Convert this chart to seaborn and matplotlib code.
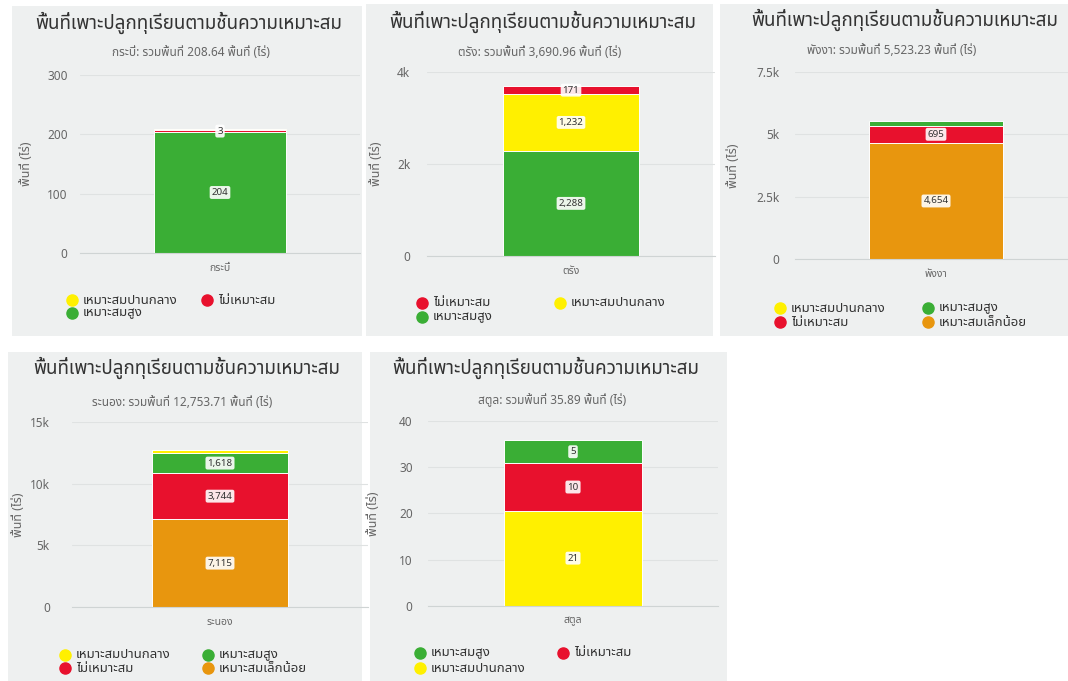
import numpy as np
import pandas as pd
import matplotlib
matplotlib.use("Agg")
import matplotlib.pyplot as plt
import seaborn as sns
from matplotlib.patches import Rectangle
from matplotlib.lines import Line2D

# ---- data ----
title = "พื้นที่เพาะปลูกทุเรียนตามชั้นความเหมาะสม"
y_label = "พื้นที่ (ไร่)"
provinces = ["กระบี่", "ตรัง", "พังงา", "ระนอง", "สตูล"]

# series listed in legend order (first = top of stack)
krabi_series = ["เหมาะสมปานกลาง", "ไม่เหมาะสม", "เหมาะสมสูง"]
krabi_values = [1.64, 3.0, 204.0]

trang_series = ["ไม่เหมาะสม", "เหมาะสมปานกลาง", "เหมาะสมสูง"]
trang_values = [170.96, 1232.0, 2288.0]

phangnga_series = ["เหมาะสมปานกลาง", "เหมาะสมสูง", "ไม่เหมาะสม", "เหมาะสมเล็กน้อย"]
phangnga_values = [4.23, 170.0, 695.0, 4654.0]

ranong_series = ["เหมาะสมปานกลาง", "เหมาะสมสูง", "ไม่เหมาะสม", "เหมาะสมเล็กน้อย"]
ranong_values = [276.71, 1618.0, 3744.0, 7115.0]

satun_series = ["เหมาะสมสูง", "ไม่เหมาะสม", "เหมาะสมปานกลาง"]
satun_values = [5.09, 10.2, 20.6]

# segments whose data label is visible in the reference
shown_labels = [
    ["ไม่เหมาะสม", "เหมาะสมสูง"],
    ["ไม่เหมาะสม", "เหมาะสมปานกลาง", "เหมาะสมสูง"],
    ["ไม่เหมาะสม", "เหมาะสมเล็กน้อย"],
    ["เหมาะสมสูง", "ไม่เหมาะสม", "เหมาะสมเล็กน้อย"],
    ["เหมาะสมสูง", "ไม่เหมาะสม", "เหมาะสมปานกลาง"],
]

y_max = [300, 4000, 7500, 15000, 40]
y_step = [100, 2000, 2500, 5000, 10]

all_series = [krabi_series, trang_series, phangnga_series, ranong_series, satun_series]
all_values = [krabi_values, trang_values, phangnga_values, ranong_values, satun_values]

colors = {
    "เหมาะสมสูง": "#3aae35",
    "เหมาะสมปานกลาง": "#fff000",
    "ไม่เหมาะสม": "#e8112d",
    "เหมาะสมเล็กน้อย": "#e8960e",
}

# ---- layout in pixels of the 1068x681 canvas ----
W, H = 1068, 681
panel_boxes = [(12, 6, 362, 336), (366, 4, 713, 336), (720, 4, 1068, 336),
               (8, 352, 362, 681), (370, 352, 727, 681)]
# left, right, y of zero, y of max
axes_boxes = [(80, 360, 253, 75), (427, 715, 256, 72), (795, 1077, 259, 72),
              (72, 368, 607, 422), (428, 718, 605.7, 421)]
bar_width = [0.47, 0.47, 0.475, 0.46, 0.476]
tick_pad = [9, 12, 11, 16, 11]
title_pos = [(189, 23), (543, 22), (905, 20), (187, 368), (546, 368)]
subtitle_pos = [(191, 53), (540, 52), (892, 51), (182, 402), (552, 400)]
ylabel_x = [33, 383, 740, 25, 380]
legend_rows = [(300, 313), (303, 317), (308, 322), (655, 668), (653, 668)]
legend_cols = [(72, 207), (422, 560), (780, 928), (65, 208), (420, 563)]


def fx(x):
    return x / W


def fy(y):
    return 1 - y / H


def k_format(v):
    if v >= 1000:
        s = f"{v / 1000:g}"
        return s + "k"
    return f"{v:g}"


sns.set_theme(style="white")
plt.rcParams["font.family"] = ["Noto Sans Thai", "Noto Sans", "DejaVu Sans"]

fig = plt.figure(figsize=(W / 100, H / 100), dpi=100, facecolor="white")

for i, prov in enumerate(provinces):
    series = all_series[i]
    values = all_values[i]
    x0, y0, x1, y1 = panel_boxes[i]
    fig.add_artist(Rectangle((fx(x0), fy(y1)), (x1 - x0) / W, (y1 - y0) / H,
                             transform=fig.transFigure, facecolor="#eef0f0",
                             edgecolor="none", zorder=-5))

    left, right, yz, yt = axes_boxes[i]
    ax = fig.add_axes([fx(left), fy(yz), (right - left) / W, (yz - yt) / H])
    ax.set_facecolor("none")

    # stack from bottom (last series) upwards
    df = pd.DataFrame({"series": series, "value": values})
    df["top"] = df["value"][::-1].cumsum()[::-1]
    df["bottom"] = df["top"] - df["value"]

    # draw cumulative heights, tallest first so lower segments cover them
    for _, row in df.iterrows():
        sns.barplot(x=[prov], y=[row["top"]], color=colors[row["series"]],
                    saturation=1, width=bar_width[i], edgecolor="white",
                    linewidth=0.7, ax=ax, zorder=2)

    for _, row in df.iterrows():
        if row["series"] in shown_labels[i]:
            ax.text(0, row["bottom"] + row["value"] / 2, f"{row['value']:,.0f}",
                    ha="center", va="center", fontsize=7, fontweight="bold",
                    color="#333333", zorder=5,
                    bbox=dict(boxstyle="round,pad=0.2", fc="white", ec="none", alpha=0.9))

    ax.set_xlim(-0.5, 0.5)
    ax.set_ylim(0, y_max[i])
    ticks = np.arange(0, y_max[i] + y_step[i] / 2, y_step[i])
    ax.set_yticks(ticks)
    ax.set_yticklabels([k_format(t) for t in ticks])
    ax.tick_params(axis="y", length=0, pad=tick_pad[i], labelsize=8.5, labelcolor="#666666")
    ax.tick_params(axis="x", length=0, pad=7, labelsize=7.5, labelcolor="#666666")
    ax.set_xlabel("")
    ax.yaxis.grid(True, color="#dfe2e2", linewidth=0.8)
    ax.set_axisbelow(True)
    for side in ["top", "right", "left"]:
        ax.spines[side].set_visible(False)
    ax.spines["bottom"].set_color("#cfd4d4")
    ax.spines["bottom"].set_linewidth(0.8)

    ax.set_ylabel(y_label, fontsize=9, color="#666666")
    ax.yaxis.set_label_coords((ylabel_x[i] - left) / (right - left), 0.5)

    tx, ty = title_pos[i]
    fig.text(fx(tx), fy(ty), title, ha="center", va="center", fontsize=13.5,
             fontweight="medium", color="#333333")
    sx, sy = subtitle_pos[i]
    total = sum(values)
    fig.text(fx(sx), fy(sy), f"{prov}: รวมพื้นที่ {total:,.2f} พื้นที่ (ไร่)",
             ha="center", va="center", fontsize=8.5, color="#666666")

    # legend, filled row by row like the original
    for j, name in enumerate(series):
        lx = legend_cols[i][j % 2]
        ly = legend_rows[i][j // 2]
        fig.add_artist(Line2D([fx(lx)], [fy(ly)], marker="o", markersize=8,
                              color=colors[name], linestyle="none",
                              transform=fig.transFigure))
        fig.text(fx(lx + 11), fy(ly), name, ha="left", va="center",
                 fontsize=9.5, fontweight="bold", color="#333333")

fig.savefig("out.png", dpi=100, facecolor="white")
